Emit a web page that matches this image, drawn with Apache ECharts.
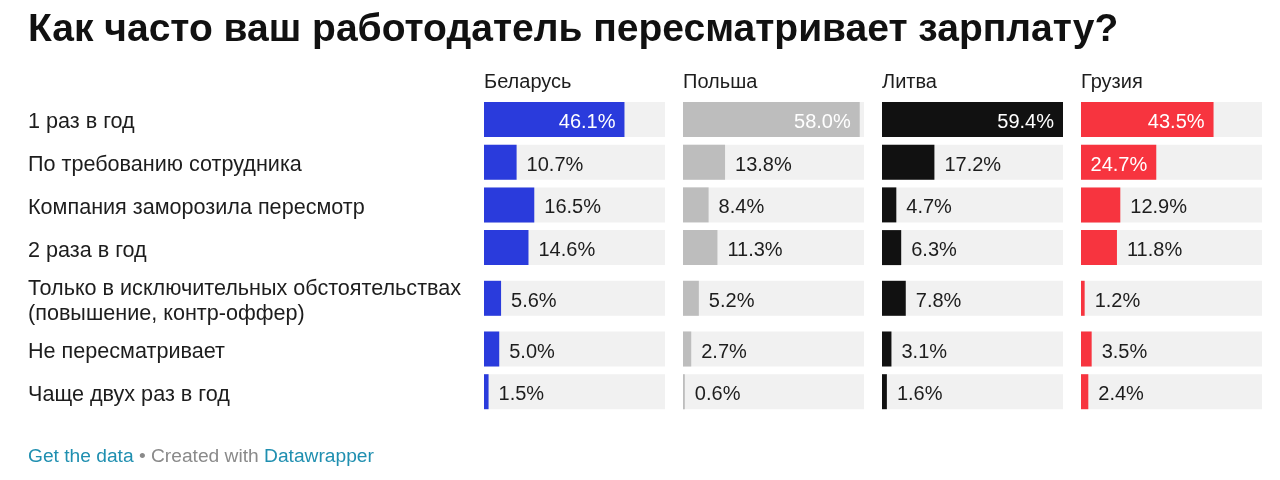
<!DOCTYPE html>
<html><head><meta charset="utf-8">
<script src="https://cdn.jsdelivr.net/npm/echarts@6/dist/echarts.min.js"></script>
<style>html,body{margin:0;padding:0;background:#fff}#c{width:1280px;height:480px}</style>
</head><body><div id="c"></div>
<script>
const titleText = 'Как часто ваш работодатель пересматривает зарплату?';
const countries = ['Беларусь', 'Польша', 'Литва', 'Грузия'];
const colors = ['#2a3bdc', '#bdbdbd', '#111111', '#f7343f'];
const categories = [
  '1 раз в год',
  'По требованию сотрудника',
  'Компания заморозила пересмотр',
  '2 раза в год',
  'Только в исключительных обстоятельствах\n(повышение, контр-оффер)',
  'Не пересматривает',
  'Чаще двух раз в год'
];
const belarus = [46.1, 10.7, 16.5, 14.6, 5.6, 5.0, 1.5];
const poland  = [58.0, 13.8, 8.4, 11.3, 5.2, 2.7, 0.6];
const lithuania = [59.4, 17.2, 4.7, 6.3, 7.8, 3.1, 1.6];
const georgia = [43.5, 24.7, 12.9, 11.8, 1.2, 3.5, 2.4];
const seriesValues = [belarus, poland, lithuania, georgia];

// layout
const FONT = 'Liberation Sans';
const colLeft = 484, colStep = 199, colWidth = 181;
const firstTop = 102, rowPitch = 42.7, rowHeight = 35, extraTwoLine = 8, labelShift = 3;
const domainMax = Math.max(...seriesValues.flat());
const insideMinPx = 72;

const lines = categories.map(c => c.split('\n').length);
const rowTops = [];
categories.forEach((c, i) => {
  if (i === 0) rowTops.push(firstTop);
  else rowTops.push(rowTops[i-1] + rowPitch + (lines[i] > 1 ? extraTwoLine : 0) + (lines[i-1] > 1 ? extraTwoLine : 0));
});

const grids = [], xAxes = [], yAxes = [], series = [];
// row label grids (labels only)
categories.forEach((cat, ri) => {
  const gi = grids.length;
  grids.push({left: colLeft, top: rowTops[ri] + labelShift, width: colWidth, height: rowHeight, containLabel: false});
  xAxes.push({type: 'value', gridIndex: gi, min: 0, max: domainMax, show: false});
  yAxes.push({type: 'category', gridIndex: gi, data: [cat],
    axisLine: {show: false}, axisTick: {show: false}, splitLine: {show: false},
    axisLabel: {show: true, align: 'left', margin: colLeft - 28, fontFamily: FONT, fontSize: 21.6,
      color: '#1d1d1d', lineHeight: 25}});
});
countries.forEach((country, ci) => {
  categories.forEach((cat, ri) => {
    const gi = grids.length;
    grids.push({left: colLeft + ci*colStep, top: rowTops[ri], width: colWidth, height: rowHeight, containLabel: false});
    xAxes.push({type: 'value', gridIndex: gi, min: 0, max: domainMax, show: false});
    yAxes.push({type: 'category', gridIndex: gi, data: [cat], show: false});
    const v = seriesValues[ci][ri];
    const px = v / domainMax * colWidth;
    const inside = px >= insideMinPx;
    series.push({type: 'bar', xAxisIndex: gi, yAxisIndex: gi, data: [v], barWidth: '100%',
      showBackground: true, backgroundStyle: {color: '#f1f1f1'},
      itemStyle: {color: colors[ci]}, silent: true, animation: false,
      label: {show: true, position: inside ? 'insideRight' : 'right', distance: inside ? 9 : 10,
        offset: [0, 3],
        color: inside ? '#ffffff' : '#1d1d1d', fontFamily: FONT, fontSize: 20,
        formatter: p => p.value.toFixed(1) + '%'}});
  });
});

const titles = [{text: titleText, left: 28, top: 11, padding: 0,
  textStyle: {fontFamily: FONT, fontWeight: 'bold', fontSize: 39, color: '#111'}}];
countries.forEach((c, ci) => titles.push({text: c, left: colLeft + ci*colStep, top: 72.5, padding: 0,
  textStyle: {fontFamily: FONT, fontWeight: 'normal', fontSize: 20, color: '#1d1d1d'}}));
titles.push({text: '{a|Get the data}{b| • Created with }{a|Datawrapper}', left: 28, top: 447, padding: 0,
  textStyle: {fontWeight: 'normal', rich: {
    a: {fontFamily: FONT, fontSize: 19.2, fontWeight: 'normal', color: '#1f8fb0'},
    b: {fontFamily: FONT, fontSize: 19.2, fontWeight: 'normal', color: '#8a8a8a'}}}});

const chart = echarts.init(document.getElementById('c'));
chart.setOption({animation: false, title: titles, grid: grids, xAxis: xAxes, yAxis: yAxes, series: series});
</script></body></html>
